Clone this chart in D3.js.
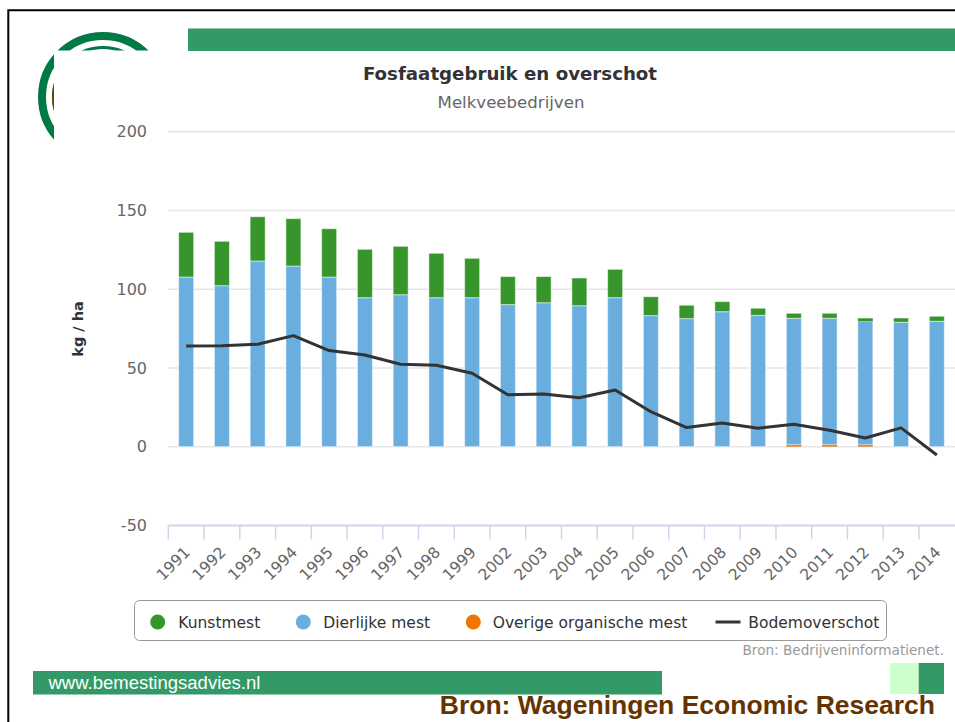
<!DOCTYPE html>
<html>
<head>
<meta charset="utf-8">
<script src="https://cdn.jsdelivr.net/npm/d3@7"></script>
<style>
  body { margin: 0; background: #fff; }
  svg { display: block; }
</style>
</head>
<body>
<div id="app"></div>
<script>
// chart data (kg fosfaat / ha)
const years = ['1991', '1992', '1993', '1994', '1995', '1996', '1997', '1998', '1999',
  '2002', '2003', '2004', '2005', '2006', '2007', '2008', '2009', '2010', '2011',
  '2012', '2013', '2014'];
const kunstmest = [28.4, 28.2, 28.1, 30.1, 30.7, 30.7, 30.7, 28.2, 25.0, 17.8, 16.6,
  17.6, 18.0, 12.0, 8.5, 6.4, 4.5, 3.2, 3.2, 1.9, 2.7, 3.2];
const dierlijkeMest = [107.7, 102.2, 117.9, 114.7, 107.7, 94.6, 96.5, 94.6, 94.6, 90.2,
  91.4, 89.5, 94.6, 83.2, 81.3, 85.7, 83.4, 80.3, 80.3, 78.4, 79.0, 79.6];
const overigeMest = [0, 0, 0, 0, 0, 0, 0, 0, 0, 0, 0, 0, 0, 0, 0, 0, 0, 1.2, 1.2, 1.2, 0, 0];
const bodemoverschot = [63.9, 64.0, 65.0, 70.5, 61.0, 58.2, 52.3, 51.7, 46.6, 33.0, 33.5,
  31.1, 36.0, 22.2, 12.1, 15.0, 11.7, 14.2, 10.4, 5.5, 11.9, -5.3];
const yTicks = [-50, 0, 50, 100, 150, 200];

(() => {
  const W = 955;
  const H = 722;
  const font = 'DejaVu Sans, Verdana, sans-serif';
  const green = '#36962b';
  const blue = '#6aaee0';
  const orange = '#ef7500';
  const brand = '#339966';

  const svg = d3.select('#app')
    .append('svg')
    .attr('width', W)
    .attr('height', H);

  // page frame
  svg.append('path')
    .attr('d', `M8.3,${H} L8.3,10.3 L${W},10.3`)
    .attr('fill', 'none')
    .attr('stroke', '#000')
    .attr('stroke-width', 2);

  // top green band
  svg.append('rect')
    .attr('x', 188).attr('y', 28.5)
    .attr('width', W - 188).attr('height', 22.5)
    .attr('fill', brand);

  // logo, mostly hidden behind the chart
  const clip = svg.append('defs').append('clipPath').attr('id', 'logo-clip');
  clip.append('rect').attr('x', 0).attr('y', 0).attr('width', 188).attr('height', 50.5);
  clip.append('rect').attr('x', 0).attr('y', 0).attr('width', 54).attr('height', 140);
  const logo = svg.append('g').attr('clip-path', 'url(#logo-clip)');
  logo.append('circle')
    .attr('cx', 103).attr('cy', 97).attr('r', 61)
    .attr('fill', 'none').attr('stroke', '#007a45').attr('stroke-width', 8);
  logo.append('circle')
    .attr('cx', 103).attr('cy', 97).attr('r', 49.5)
    .attr('fill', 'none').attr('stroke', '#007a45').attr('stroke-width', 3);
  logo.append('path')
    .attr('d', d3.arc()({ innerRadius: 48, outerRadius: 51, startAngle: -1.9, endAngle: -1.25 }))
    .attr('transform', 'translate(103,97)')
    .attr('fill', '#7a3b00');

  // scales
  const x = d3.scaleBand()
    .domain(years)
    .range([168.3, 954.7])
    .paddingInner(0.58)
    .paddingOuter(0.29);
  const y = d3.scaleLinear()
    .domain([-50, 200])
    .range([525.4, 131.7]);

  // gridlines
  svg.append('g')
    .selectAll('line')
    .data(yTicks.filter(t => t > -50))
    .enter()
    .append('line')
    .attr('x1', 168).attr('x2', W)
    .attr('y1', d => y(d)).attr('y2', d => y(d))
    .attr('stroke', '#e6e6e6')
    .attr('stroke-width', 1.5);

  // y axis labels
  const yAxis = svg.append('g')
    .attr('transform', 'translate(168,0)')
    .call(d3.axisLeft(y).tickValues(yTicks).tickFormat(d => String(d))
      .tickSize(0).tickPadding(21));
  yAxis.select('.domain').remove();
  yAxis.selectAll('text')
    .attr('font-family', font)
    .attr('font-size', 16)
    .attr('fill', '#666');

  svg.append('text')
    .text('kg / ha')
    .attr('transform', 'translate(83,329) rotate(-90)')
    .attr('font-family', font)
    .attr('font-size', 14.5)
    .attr('font-weight', 'bold')
    .attr('fill', '#333')
    .style('text-anchor', 'middle');

  // stacked columns (first series on top)
  const rows = years.map((yr, i) => ({
    year: yr,
    overige: overigeMest[i],
    dierlijk: dierlijkeMest[i],
    kunst: kunstmest[i],
  }));
  const keys = ['overige', 'dierlijk', 'kunst'];
  const colors = { overige: orange, dierlijk: blue, kunst: green };
  const stacked = d3.stack().keys(keys)(rows);

  svg.append('g')
    .selectAll('g')
    .data(stacked)
    .enter()
    .append('g')
    .attr('fill', d => colors[d.key])
    .selectAll('rect')
    .data(d => d.filter(p => p[1] - p[0] > 0))
    .enter()
    .append('rect')
    .attr('x', d => x(d.data.year))
    .attr('width', x.bandwidth())
    .attr('y', d => y(d[1]))
    .attr('height', d => y(d[0]) - y(d[1]))
    .attr('stroke', d => (y(d[0]) - y(d[1]) > 4 ? '#fff' : 'none'))
    .attr('stroke-opacity', 0.5)
    .attr('stroke-width', 1);

  // x axis
  const xAxis = svg.append('g')
    .attr('transform', `translate(0,${y(-50)})`)
    .call(d3.axisBottom(x).tickSize(14).tickSizeOuter(0));
  xAxis.select('.domain')
    .attr('stroke', '#ccd6eb')
    .attr('stroke-width', 2)
    .attr('d', `M168.3,0H${W}`);
  // ticks sit between categories, like the original
  xAxis.selectAll('.tick line')
    .attr('stroke', '#ccd6eb')
    .attr('stroke-width', 1.5)
    .attr('x1', -x.step() / 2)
    .attr('x2', -x.step() / 2);
  xAxis.selectAll('.tick text')
    .attr('font-family', font)
    .attr('font-size', 15.5)
    .attr('fill', '#666')
    .attr('dy', '0.35em')
    .attr('y', 0)
    .attr('transform', 'translate(1,24) rotate(-45)')
    .style('text-anchor', 'end');

  // surplus line
  const line = d3.line()
    .x((d, i) => x(years[i]) + (x.bandwidth() / 2))
    .y(d => y(d));
  svg.append('path')
    .datum(bodemoverschot)
    .attr('d', line)
    .attr('fill', 'none')
    .attr('stroke', '#333')
    .attr('stroke-width', 3)
    .attr('stroke-linejoin', 'round');

  // title and subtitle
  svg.append('text')
    .text('Fosfaatgebruik en overschot')
    .attr('x', 510).attr('y', 80)
    .attr('font-family', font)
    .attr('font-size', 18.2)
    .attr('font-weight', 'bold')
    .attr('fill', '#333')
    .style('text-anchor', 'middle');
  svg.append('text')
    .text('Melkveebedrijven')
    .attr('x', 511).attr('y', 107.5)
    .attr('font-family', font)
    .attr('font-size', 16.6)
    .attr('fill', '#666')
    .style('text-anchor', 'middle');

  // legend
  svg.append('rect')
    .attr('x', 134.5).attr('y', 600.5)
    .attr('width', 752).attr('height', 40)
    .attr('rx', 5)
    .attr('fill', '#fff')
    .attr('stroke', '#999');
  const legendItems = [
    { name: 'Kunstmest', color: green, sx: 157.7, tx: 178.3, type: 'dot' },
    { name: 'Dierlijke mest', color: blue, sx: 303.3, tx: 323.3, type: 'dot' },
    { name: 'Overige organische mest', color: orange, sx: 473.3, tx: 492.7, type: 'dot' },
    { name: 'Bodemoverschot', color: '#333', sx: 728, tx: 748.3, type: 'line' },
  ];
  const lg = svg.append('g')
    .selectAll('g')
    .data(legendItems)
    .enter()
    .append('g');
  lg.filter(d => d.type === 'dot')
    .append('circle')
    .attr('cx', d => d.sx).attr('cy', 622)
    .attr('r', 7.5)
    .attr('fill', d => d.color);
  lg.filter(d => d.type === 'line')
    .append('line')
    .attr('x1', d => d.sx - 12.5).attr('x2', d => d.sx + 12.5)
    .attr('y1', 622).attr('y2', 622)
    .attr('stroke', d => d.color)
    .attr('stroke-width', 3);
  lg.append('text')
    .text(d => d.name)
    .attr('x', d => d.tx).attr('y', 627.5)
    .attr('font-family', font)
    .attr('font-size', 15.5)
    .attr('fill', '#333');

  // credits
  svg.append('text')
    .text('Bron: Bedrijveninformatienet.')
    .attr('x', 944).attr('y', 655)
    .attr('font-family', font)
    .attr('font-size', 13.6)
    .attr('fill', '#999')
    .style('text-anchor', 'end');

  // footer
  svg.append('rect')
    .attr('x', 33).attr('y', 671)
    .attr('width', 629).attr('height', 23.5)
    .attr('fill', brand);
  svg.append('text')
    .text('www.bemestingsadvies.nl')
    .attr('x', 48.5).attr('y', 688.5)
    .attr('font-family', 'Liberation Sans, Arial, sans-serif')
    .attr('font-size', 18.5)
    .attr('fill', '#fff');
  svg.append('rect')
    .attr('x', 890).attr('y', 663)
    .attr('width', 28.7).attr('height', 31)
    .attr('fill', '#ccffcc');
  svg.append('rect')
    .attr('x', 918.7).attr('y', 663)
    .attr('width', 25.3).attr('height', 31)
    .attr('fill', brand);
  svg.append('text')
    .text('Bron: Wageningen Economic Research')
    .attr('x', 935).attr('y', 714)
    .attr('font-family', 'Liberation Sans, Arial, sans-serif')
    .attr('font-size', 26.5)
    .attr('font-weight', 'bold')
    .attr('fill', '#663300')
    .style('text-anchor', 'end');
})();
</script>
</body>
</html>
